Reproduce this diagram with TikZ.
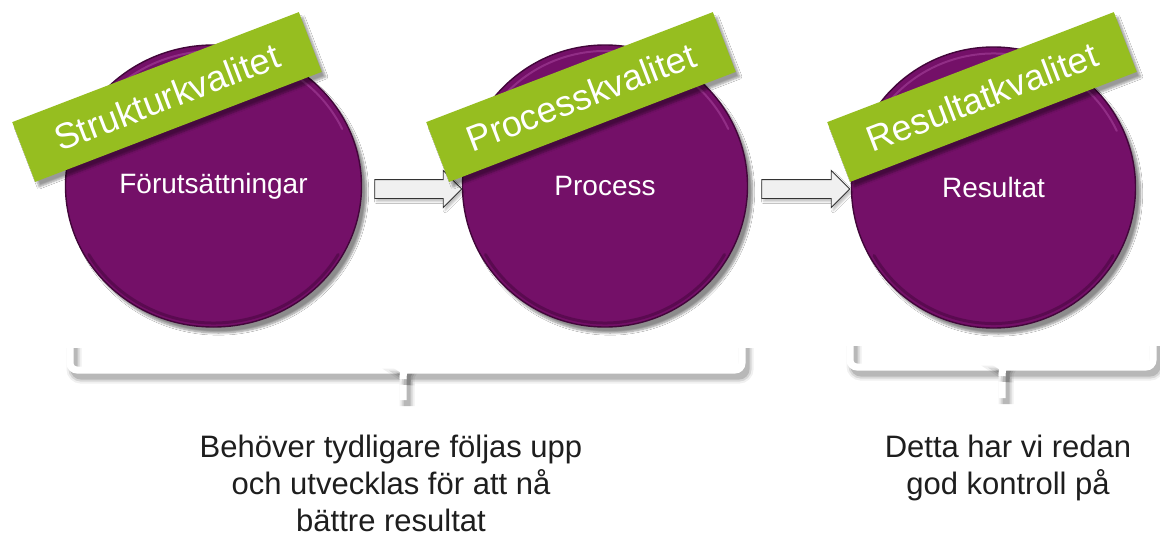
\documentclass[tikz,border=0pt]{standalone}
\usepackage{fontspec}
\setmainfont{Liberation Sans}
\usetikzlibrary{shapes.geometric,shapes.arrows,shadows.blur}
\definecolor{purp}{RGB}{116,16,104}
\definecolor{purpdark}{RGB}{66,6,58}
\definecolor{purplight}{RGB}{200,100,190}
\definecolor{grn}{RGB}{150,190,32}
\definecolor{arrowfill}{RGB}{240,240,240}
\definecolor{txt}{RGB}{30,30,30}
\begin{document}
\begin{tikzpicture}[x=1pt,y=-1pt,
  disc/.style={ellipse, fill=purp, draw=purpdark, line width=1.4pt, inner sep=0pt,
    text=white, font=\fontsize{28}{32}\selectfont,
    blur shadow={shadow xshift=5pt, shadow yshift=-6pt, shadow blur steps=8, shadow opacity=45}},
  banner/.style={rectangle, fill=grn, minimum width=307pt, minimum height=64pt, inner sep=0pt,
    rotate=21, text=white, font=\fontsize{36}{40}\selectfont,
    blur shadow={shadow xshift=4pt, shadow yshift=-5pt, shadow blur steps=6, shadow opacity=40}},
  blockarrow/.style={single arrow, draw=black!80, fill=arrowfill, line width=0.9pt,
    single arrow head extend=9pt, inner xsep=0pt, inner ysep=9pt, minimum height=87pt,
    blur shadow={shadow xshift=2pt, shadow yshift=-3pt, shadow blur steps=4, shadow opacity=25}},
  bracket/.style={draw=white, line width=7pt, rounded corners=7pt, line cap=butt,
    preaction={draw=black, opacity=0.06, line width=15pt, rounded corners=7pt, transform canvas={xshift=4pt,yshift=-6pt}},
    preaction={draw=black, opacity=0.10, line width=11pt, rounded corners=7pt, transform canvas={xshift=4pt,yshift=-6pt}},
    preaction={draw=black, opacity=0.14, line width=7pt, rounded corners=7pt, transform canvas={xshift=4pt,yshift=-6pt}}},
  note/.style={text=txt, font=\fontsize{31}{37}\selectfont, align=center, inner sep=0pt, anchor=north},
  rim/.style={draw=purplight, line width=2pt, opacity=0.35, line cap=round},
  rimdark/.style={draw=purpdark, line width=3pt, opacity=0.5, line cap=round}
]
\useasboundingbox[fill=white] (0,0) rectangle (1160,536);

% braces
\coordinate (b1l) at (70,342);
\coordinate (b1m) at (403,400);
\coordinate (b1r) at (742,342);
\draw[bracket] (b1l) -- (70,370) -- (396,370) .. controls (401,370) and (403,373) .. (403,379) -- (b1m);
\draw[bracket] (403,379) .. controls (403,373) and (405,370) .. (410,370) -- (742,370) -- (b1r);
\coordinate (b2l) at (850,340);
\coordinate (b2m) at (1002,398);
\coordinate (b2r) at (1153,340);
\draw[bracket] (b2l) -- (850,367) -- (995,367) .. controls (1000,367) and (1002,370) .. (1002,376) -- (b2m);
\draw[bracket] (1002,376) .. controls (1002,370) and (1004,367) .. (1009,367) -- (1153,367) -- (b2r);

% discs
\node[disc, minimum width=296pt, minimum height=282pt] (c1) at (213.5,186) {Förutsättningar};
\node[disc, minimum width=285pt, minimum height=282pt] (c2) at (605,186) {Process};
\node[disc, minimum width=284pt, minimum height=281pt] (c3) at (993.5,187.5) {Resultat};
% bevel highlights (top) and darker lower rim
\draw[rim] (c1.center) ++(205:142 and 135) arc[start angle=205, end angle=335, x radius=142, y radius=135];
\draw[rim] (c2.center) ++(205:136 and 135) arc[start angle=205, end angle=335, x radius=136, y radius=135];
\draw[rim] (c3.center) ++(205:136 and 134) arc[start angle=205, end angle=335, x radius=136, y radius=134];
\draw[rimdark] (c1.center) ++(30:144 and 137) arc[start angle=30, end angle=150, x radius=144, y radius=137];
\draw[rimdark] (c2.center) ++(30:138 and 137) arc[start angle=30, end angle=150, x radius=138, y radius=137];
\draw[rimdark] (c3.center) ++(30:138 and 136) arc[start angle=30, end angle=150, x radius=138, y radius=136];

% arrows
\node[blockarrow] (a1) at (413.5,189) {};
\node[blockarrow, minimum height=88pt] (a2) at (801,189) {};

% banners
\node[banner] (g1) at (167,97) {Strukturkvalitet};
\node[banner] (g2) at (581,97) {Processkvalitet};
\node[banner] (g3) at (982,97) {Resultatkvalitet};

% notes
\node[note] (n1) at (391,435) {Behöver tydligare följas upp\\och utvecklas för att nå\\bättre resultat};
\node[note] (n2) at (1008,435) {Detta har vi redan\\god kontroll på};
\end{tikzpicture}
\end{document}
